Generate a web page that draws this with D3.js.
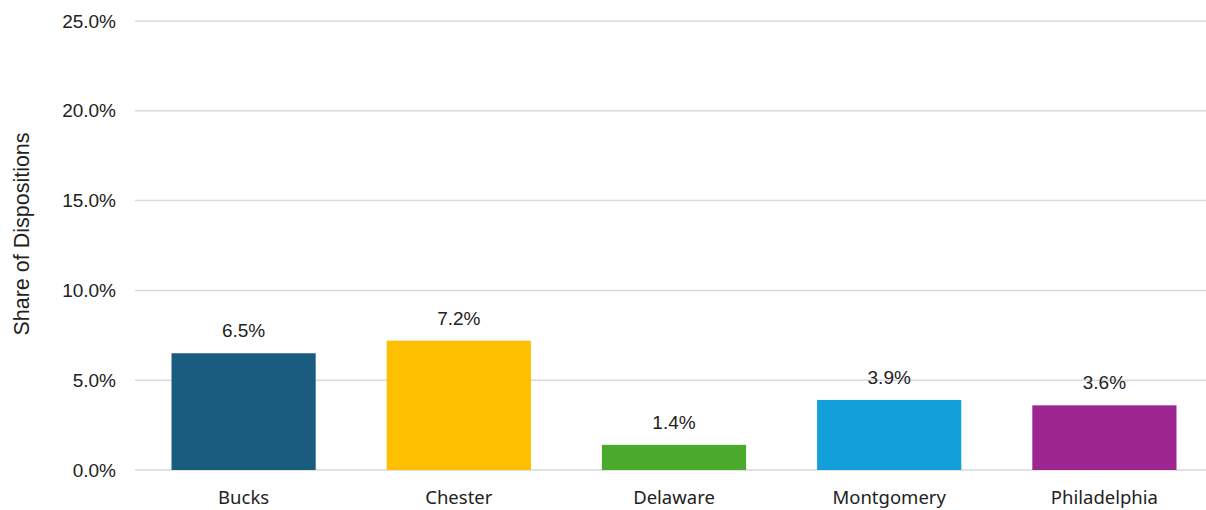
<!DOCTYPE html>
<html><head><meta charset="utf-8">
<script src="https://cdn.jsdelivr.net/npm/d3@7"></script>
<style>body{margin:0;background:#fff}svg{display:block}text{font-family:"Liberation Sans",Arial,sans-serif;fill:#222}</style>
</head><body><svg id="c" width="1206" height="510"></svg>
<script>
const categories=["Bucks","Chester","Delaware","Montgomery","Philadelphia"];
const values=[0.065,0.072,0.014,0.039,0.036];
const colors=["#1a5b80","#fdbf00","#4ba92c","#139fd9","#9d2690"];
const yTicks=[0,0.05,0.10,0.15,0.20,0.25];

const svg=d3.select("#c");
const mL=136,mR=1212,mT=21,mB=470;
const x=d3.scaleBand().domain(categories).range([mL,mR]).paddingInner(0.33).paddingOuter(0.165);
const y=d3.scaleLinear().domain([0,0.25]).range([mB,mT]);
const fmt=d3.format(".1%");

const ya=svg.append("g").attr("transform",`translate(${mL},0)`)
 .call(d3.axisLeft(y).tickValues(yTicks).tickFormat(fmt).tickSize(0).tickPadding(20));
ya.select(".domain").remove();
ya.selectAll("text").style("font-size","19px").attr("fill","#222");
svg.append("g").selectAll("line").data(yTicks).join("line")
 .attr("x1",mL-1).attr("x2",1206).attr("y1",d=>y(d)).attr("y2",d=>y(d))
 .attr("stroke","#d9d9d9").attr("stroke-width",1.5);

svg.append("g").selectAll("rect").data(values).join("rect")
 .attr("x",(d,i)=>x(categories[i])).attr("width",x.bandwidth())
 .attr("y",d=>y(d)).attr("height",d=>y(0)-y(d)).attr("fill",(d,i)=>colors[i]);

svg.append("g").selectAll("text").data(values).join("text")
 .attr("x",(d,i)=>x(categories[i])+x.bandwidth()/2).attr("y",d=>y(d)-16)
 .attr("text-anchor","middle").style("font-size","19px").text(d=>fmt(d));

const xa=svg.append("g").attr("transform",`translate(0,${mB})`)
 .call(d3.axisBottom(x).tickSize(0).tickPadding(20.5));
xa.select(".domain").remove();
xa.selectAll("text").style("font-size","18.5px").style("font-family","'Noto Sans',sans-serif").attr("fill","#222");

svg.append("text").attr("transform","translate(29,234) rotate(-90)")
 .attr("text-anchor","middle").style("font-size","21.5px").text("Share of Dispositions");
</script></body></html>
